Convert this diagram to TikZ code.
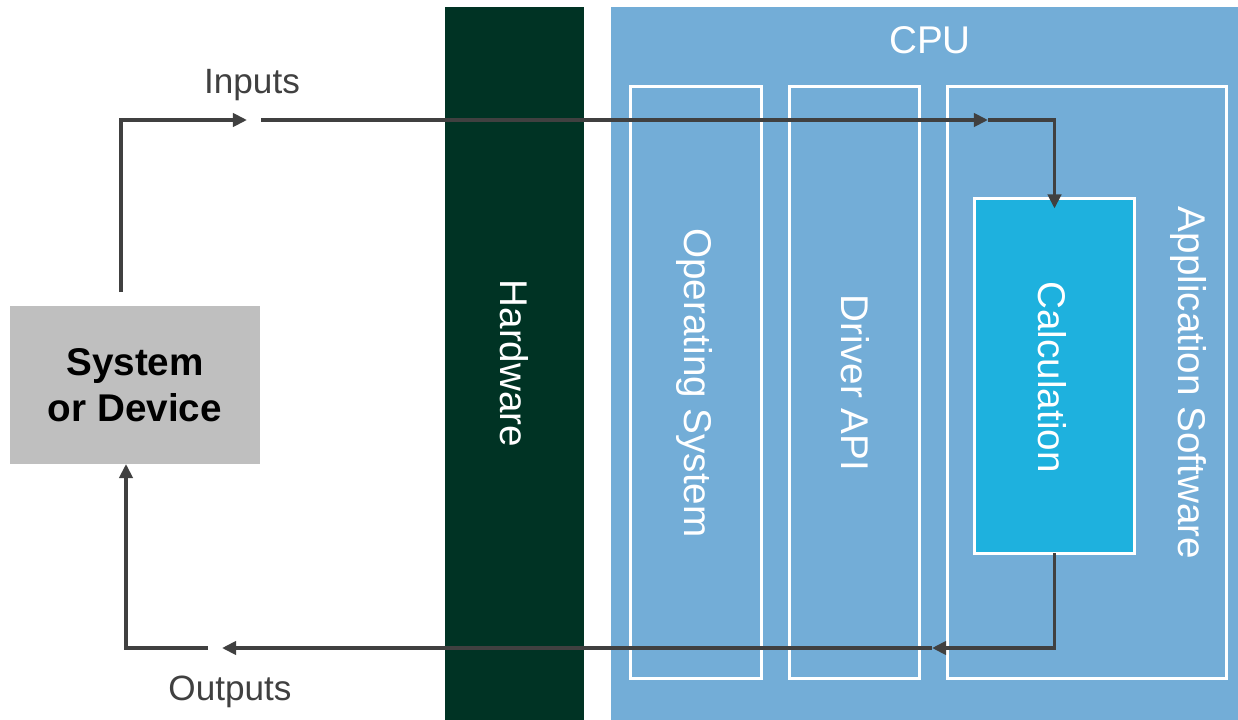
\documentclass[tikz,border=0pt]{standalone}
\usepackage{fontspec}
\setmainfont{Liberation Sans}
\usetikzlibrary{arrows.meta}
\definecolor{hwgreen}{RGB}{0, 51, 36}
\definecolor{cpublue}{RGB}{115, 173, 215}
\definecolor{calcblue}{RGB}{30, 177, 222}
\definecolor{sysgray}{RGB}{191, 191, 191}
\definecolor{flowgray}{RGB}{64, 64, 64}

\tikzset{
  panel/.style={inner sep=0pt, outer sep=0pt},
  layer/.style={panel, draw=white, line width=2pt, minimum height=11.84cm},
  vtext/.style={rotate=-90, text=white, font=\fontsize{22}{26}\selectfont},
  lbl/.style={text=flowgray, font=\fontsize{20}{24}\selectfont},
  flow/.style={draw=flowgray, line width=2.2pt},
  tip/.style={-{Triangle[length=8pt,width=7.5pt]}}
}

\begin{document}
\begin{tikzpicture}[x=0.02cm, y=-0.02cm]
\useasboundingbox[fill=white] (0,0) rectangle (1238,720);

\node[panel, fill=sysgray, minimum width=5cm, minimum height=3.16cm, align=center,
  font=\fontsize{22}{26}\selectfont\bfseries] (sys) at (135,385) {System\\or Device};

\node[panel, fill=hwgreen, minimum width=2.78cm, minimum height=14.26cm] (hw) at (514.5,363.5) {};
\node[vtext] (hwtext) at (hw) {Hardware};

\node[panel, fill=cpublue, minimum width=12.54cm, minimum height=14.26cm] (cpu) at (924.5,363.5) {};
\node[text=white, font=\fontsize{22}{26}\selectfont] (cputext) at (930,40) {CPU};

\node[layer, minimum width=2.62cm] (os) at (696,382.5) {};
\node[vtext] (ostext) at (694,383) {Operating System};

\node[layer, minimum width=2.6cm] (drv) at (854.5,382.5) {};
\node[vtext] (drvtext) at (855,383) {Driver API};

\node[layer, minimum width=5.58cm] (app) at (1087,382.5) {};
\node[vtext] (apptext) at (1188,383) {Application Software};

\node[layer, fill=calcblue, minimum width=3.2cm, minimum height=7.1cm] (calc) at (1054.5,376) {};
\node[vtext] (calctext) at (1052,377) {Calculation};

\node[lbl] (inlbl) at (252,85) {Inputs};
\node[lbl] (outlbl) at (230,692) {Outputs};

\coordinate (inA) at (121,292);
\coordinate (inL) at (247,120);
\coordinate (inR) at (261,120);
\coordinate (inM) at (988,120);
\coordinate (outM) at (932,648);
\coordinate (outR) at (222,648);
\coordinate (outL) at (208,648);

\draw[flow, tip] (inA) |- (inL);
\draw[flow, tip] (inR) -- (inM);
\draw[flow, tip] (inM) -| ([yshift=-0.2cm]calc.north);
\draw[flow, tip] (calc.south) |- (outM);
\draw[flow, tip] (outM) -- (outR);
\draw[flow, tip] (outL) -| ([xshift=-0.18cm]sys.south);
\end{tikzpicture}
\end{document}
